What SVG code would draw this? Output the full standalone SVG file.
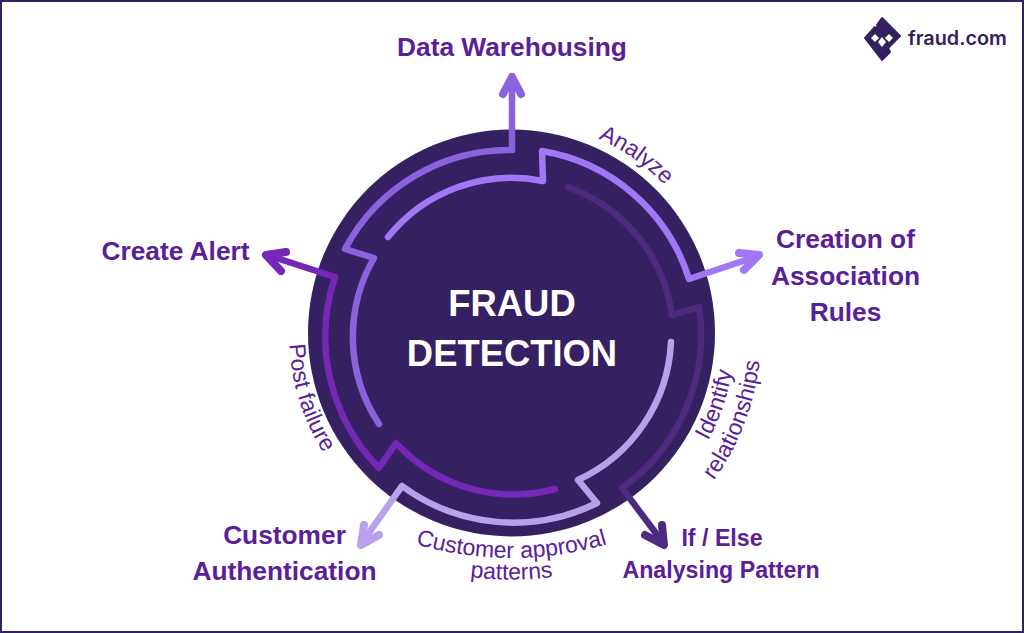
<svg xmlns="http://www.w3.org/2000/svg" width="1024" height="633" viewBox="0 0 1024 633">
<style>
.c{fill:none;stroke-width:6.5;stroke-linecap:round;stroke-linejoin:round}
.h{fill:none;stroke-width:8;stroke-linecap:round;stroke-linejoin:round}
.n{font-family:"Liberation Sans",Arial,sans-serif;font-weight:700;fill:#5a2098;font-size:26.3px;text-anchor:middle}
.s{font-size:23.2px}
.l{font-family:"Liberation Sans",Arial,sans-serif;fill:#5a2098;font-size:23px;text-anchor:middle}
.t{font-family:"Liberation Sans",Arial,sans-serif;font-weight:700;fill:#fff;font-size:36.4px;text-anchor:middle}
</style>
<defs>
<path id="pA" d="M529.7 120.8A214 214 0 0 1 705 243.6"/>
<path id="pI" d="M658 503A224 224 0 0 0 731 291.3"/>
<path id="pR" d="M668.3 528.3A250 250 0 0 0 758 295"/>
<path id="pP" d="M294.3 286A222 222 0 0 0 361 497.7"/>
<path id="pC" d="M341.5 512.4A340 340 0 0 0 681.5 512.4"/>
<path id="pT" d="M341.5 534A340 340 0 0 0 681.5 534"/>
</defs>
<rect x="1" y="1" width="1022" height="631" fill="#fff" stroke="#35205f" stroke-width="2"/>
<g id="hub"><circle cx="511.5" cy="333" r="203.5" fill="#352062"/>
<text class="t" x="512" y="316">FRAUD</text><text class="t" x="512" y="366">DETECTION</text></g>
<g id="connectors">
<path class="c" stroke="#8a63dc" d="M512 76V150A186 186 0 0 0 345 249L374 258A158 158 0 0 0 379 424"/>
<path class="h" stroke="#8a63dc" d="M503 94L512 77L521 94"/>
<path class="c" stroke="#a077f5" d="M758 256L689 279A186 186 0 0 0 542 151L543 181A158 158 0 0 0 388 237"/>
<path class="h" stroke="#a077f5" d="M739 253L759 255L744 270"/>
<path class="c" stroke="#4d2a80" d="M664 544L622 488A188 188 0 0 0 699 307L672 315A160 160 0 0 0 568 187"/>
<path class="h" stroke="#4d2a80" d="M645 535L664 545L662 525"/>
<path class="c" stroke="#b9a0ea" d="M361 544L402 486A188 188 0 0 0 597 503L578 480A160 160 0 0 0 671 342"/>
<path class="h" stroke="#b9a0ea" d="M364 525L361 545L379 535"/>
<path class="c" stroke="#7527b5" d="M267 255L335 277A188 188 0 0 0 379 468L396 443A160 160 0 0 0 555 489"/>
<path class="h" stroke="#7527b5" d="M281 271L266 255L286 252"/>
</g>
<g id="data-warehousing"><text class="n" x="512" y="56">Data Warehousing</text></g>
<g id="creation"><text class="n" x="845.5" y="248">Creation of</text><text class="n" x="845.5" y="285">Association</text><text class="n" x="845.5" y="321">Rules</text></g>
<g id="if-else"><text class="n s" x="722" y="546">If / Else</text><text class="n s" x="721" y="578">Analysing Pattern</text></g>
<g id="customer-auth"><text class="n" x="284.5" y="544">Customer</text><text class="n" x="284.5" y="580">Authentication</text></g>
<g id="create-alert"><text class="n" x="175.5" y="260">Create Alert</text></g>
<g id="labels">
<text class="l"><textPath href="#pA" startOffset="50%">Analyze</textPath></text>
<text class="l"><textPath href="#pI" startOffset="50%">Identify</textPath></text>
<text class="l"><textPath href="#pR" startOffset="50%">relationships</textPath></text>
<text class="l"><textPath href="#pP" startOffset="50%">Post failure</textPath></text>
<text class="l"><textPath href="#pC" startOffset="50%">Customer approval</textPath></text>
<text class="l"><textPath href="#pT" startOffset="50%">patterns</textPath></text>
</g>
<g id="logo">
<path fill="#35205f" stroke="#35205f" stroke-width="2" stroke-linejoin="round" d="M882 18L900 36L888 48L890 52L882 60L865 38L875 27L879 30L877 25Z"/>
<path fill="#fff" d="M875 34L879 38L875 42L871 38ZM889 34L893 38L889 42L885 38ZM882 37L886 42L882 47L878 42Z"/>
<text x="908" y="45" font-family="Inter,'Open Sans',sans-serif" font-weight="600" font-size="19.8" fill="#35205f">fraud.com</text>
</g>
</svg>
